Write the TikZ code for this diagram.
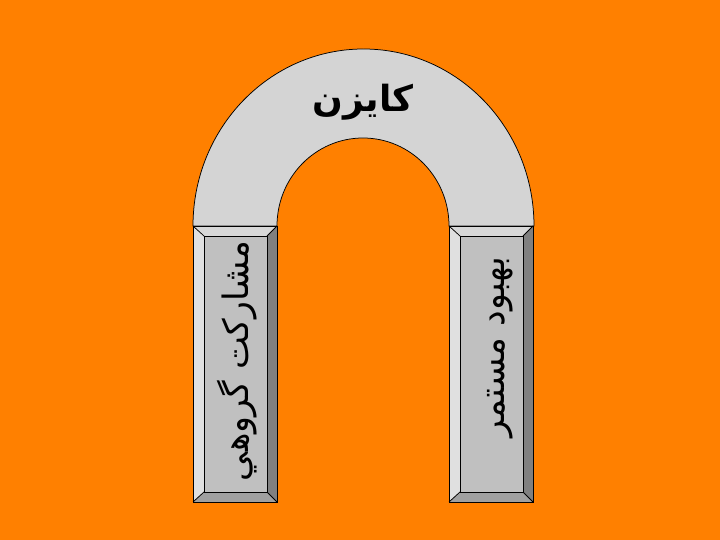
\documentclass[tikz,border=0pt]{standalone}
\usepackage{fontspec}
\TeXXeTstate=1
\newfontfamily\arabicfont[Script=Arabic]{DejaVu Sans}
\definecolor{bg}{RGB}{255,128,0}
\definecolor{archgray}{RGB}{212,212,212}
\definecolor{face}{RGB}{192,192,192}
\definecolor{bevtop}{RGB}{216,216,216}
\definecolor{bevleft}{RGB}{224,224,224}
\definecolor{bevright}{RGB}{128,128,128}
\definecolor{bevbot}{RGB}{160,160,160}
\begin{document}
\begin{tikzpicture}[x=1pt,y=1pt,
  edge/.style={draw=black, line width=0.75pt, line join=miter},
  pillartext/.style={rotate=90, inner sep=0pt, font=\arabicfont\fontsize{35}{42}\selectfont},
  pillar/.pic={
    \fill[bevtop] (0,0) -- (84,0) -- (74,-10) -- (11,-10) -- cycle;
    \fill[bevleft] (0,0) -- (11,-10) -- (11,-266) -- (0,-276) -- cycle;
    \fill[bevright] (84,0) -- (84,-276) -- (74,-266) -- (74,-10) -- cycle;
    \fill[bevbot] (0,-276) -- (84,-276) -- (74,-266) -- (11,-266) -- cycle;
    \fill[face] (11,-10) rectangle (74,-266);
    \draw[edge] (0,0) rectangle (84,-276);
    \draw[edge] (11,-10) rectangle (74,-266);
    \draw[edge] (0,0) -- (11,-10) (84,0) -- (74,-10) (0,-276) -- (11,-266) (84,-276) -- (74,-266);
  }]
\fill[bg] (0,0) rectangle (720,540);
\useasboundingbox (0,0) rectangle (720,540);
% arch
\path[edge, fill=archgray] (193,314) arc[start angle=180, end angle=0, x radius=170.5, y radius=177]
  -- (449,314) arc[start angle=0, end angle=180, x radius=86, y radius=88] -- cycle;
% pillars
\pic at (193,314) {pillar};
\pic at (449,314) {pillar};
% texts
\node[inner sep=0pt, font=\arabicfont\bfseries\fontsize{36}{43}\selectfont] (kaizen) at (363,438) {\beginR كايزن\endR};
\node[pillartext] (leftlabel) at (237,179) {\beginR مشاركت گروهي\endR};
\node[pillartext] (rightlabel) at (500,193) {\beginR بهبود مستمر\endR};
\end{tikzpicture}
\end{document}
